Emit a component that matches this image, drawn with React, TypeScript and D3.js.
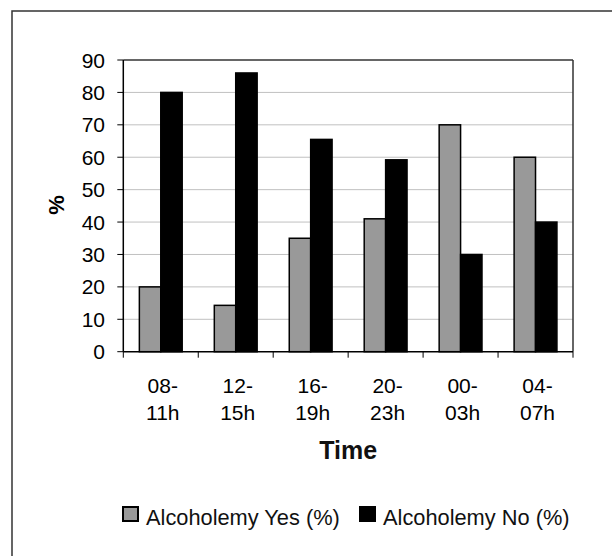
import React from "react";
import * as d3 from "d3";

const categories = ["08-11h", "12-15h", "16-19h", "20-23h", "00-03h", "04-07h"];
const categoryLines = [["08-", "11h"], ["12-", "15h"], ["16-", "19h"], ["20-", "23h"], ["00-", "03h"], ["04-", "07h"]];
const alcoholemyYes = [20, 14.3, 35, 41, 70, 60];
const alcoholemyNo = [80, 86, 65.5, 59.2, 30, 40];
const yTicks = [0, 10, 20, 30, 40, 50, 60, 70, 80, 90];
const seriesNames = ["Alcoholemy Yes (%)", "Alcoholemy No (%)"];
const seriesColors = ["#999999", "#000000"];

const FONT = "'Liberation Sans', Arial, Helvetica, sans-serif";

export default function App() {
  const W = 612, H = 556;
  const left = 123.3, right = 573, top = 60, bottom = 351.7;

  const x = d3.scaleBand<string>().domain(categories).range([left, right]).paddingInner(0).paddingOuter(0);
  const y = d3.scaleLinear().domain([0, 90]).range([bottom, top]);
  // Excel-like: gap width 150%
  const bw = x.bandwidth() / (2 + 1.5);
  const series = [alcoholemyYes, alcoholemyNo];

  return (
    <svg width={W} height={H} style={{ position: "absolute", left: 0, top: 0 }} fontFamily={FONT}>
      <rect x={0} y={0} width={W} height={H} fill="#fff" />
      {/* outer frame */}
      <rect x={12} y={11} width={W + 20} height={H + 20} fill="none" stroke="#333" strokeWidth={1.5} />

      {/* gridlines */}
      {yTicks.filter(t => t > 0 && t < 90).map(t => (
        <line key={"g" + t} x1={left} x2={right} y1={y(t)} y2={y(t)} stroke="#c0c0c0" strokeWidth={1} />
      ))}

      {/* bars */}
      {categories.map((c, i) => {
        const x0 = (x(c) as number) + bw * 0.75;
        return series.map((s, j) => (
          <rect key={c + j} x={x0 + j * bw} y={y(s[i])} width={bw} height={y(0) - y(s[i])}
            fill={seriesColors[j]} stroke="#000" strokeWidth={1.5} />
        ));
      })}

      {/* plot frame */}
      <line x1={left} x2={right} y1={top} y2={top} stroke="#333" strokeWidth={1.5} />
      <line x1={right} x2={right} y1={top} y2={bottom} stroke="#333" strokeWidth={1.5} />
      <line x1={left} x2={left} y1={top} y2={bottom} stroke="#000" strokeWidth={1.5} />
      <line x1={left} x2={right} y1={bottom} y2={bottom} stroke="#000" strokeWidth={1.5} />

      {/* y ticks */}
      {yTicks.map(t => (
        <g key={"y" + t}>
          <line x1={left - 6} x2={left} y1={y(t)} y2={y(t)} stroke="#000" strokeWidth={1} />
          <text x={105} y={y(t)} dy="0.36em" textAnchor="end" fontSize={21} fill="#000">{t}</text>
        </g>
      ))}

      {/* x ticks */}
      {[...categories.map(c => x(c) as number), right].map((v, i) => (
        <line key={"xt" + i} x1={v} x2={v} y1={bottom} y2={bottom + 6} stroke="#000" strokeWidth={1} />
      ))}
      {categories.map((c, i) => (
        <text key={"xl" + c} x={(x(c) as number) + x.bandwidth() / 2 + 2} textAnchor="middle" fontSize={21} fill="#000">
          <tspan x={(x(c) as number) + x.bandwidth() / 2 + 2} y={393}>{categoryLines[i][0]}</tspan>
          <tspan x={(x(c) as number) + x.bandwidth() / 2 + 2} y={420}>{categoryLines[i][1]}</tspan>
        </text>
      ))}

      {/* axis titles */}
      <text x={(left + right) / 2} y={459} textAnchor="middle" fontSize={25} fontWeight="bold" fill="#111">Time</text>
      <text transform={`translate(64,205) rotate(-90)`} textAnchor="middle" fontSize={22} fontWeight="bold" fill="#000">%</text>

      {/* legend */}
      {seriesNames.map((n, j) => {
        const sx = j === 0 ? 123 : 360;
        return (
          <g key={n}>
            <rect x={sx} y={507} width={15} height={14} fill={seriesColors[j]} stroke="#000" strokeWidth={2} />
            <text x={sx + 23} y={525} fontSize={21.8} fill="#111">{n}</text>
          </g>
        );
      })}
    </svg>
  );
}
